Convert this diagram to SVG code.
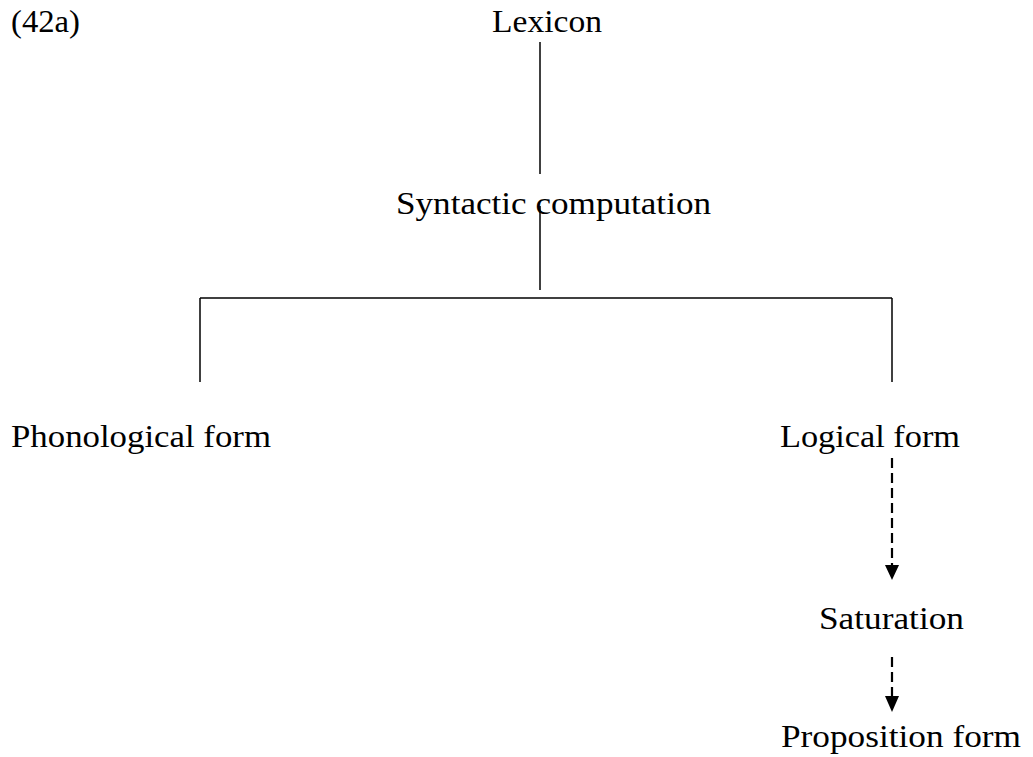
<svg xmlns="http://www.w3.org/2000/svg" width="1033" height="757" viewBox="0 0 1033 757">
<style>
text{font-family:"Liberation Serif","DejaVu Serif",serif;font-size:32px;fill:#000}
.s{stroke:#000;stroke-width:1.5;fill:none}
.d{stroke:#000;stroke-width:2.2;fill:none;stroke-dasharray:10 5}
.a{fill:#000}
</style>
<rect width="1033" height="757" fill="#fff"/>
<g id="label"><text x="11" y="32" textLength="69" lengthAdjust="spacingAndGlyphs">(42a)</text></g>
<g id="lexicon"><text x="492" y="32" textLength="110" lengthAdjust="spacingAndGlyphs">Lexicon</text></g>
<g id="syntactic"><text x="396" y="214" textLength="315" lengthAdjust="spacingAndGlyphs">Syntactic computation</text></g>
<g id="phon"><text x="11" y="447" textLength="260" lengthAdjust="spacingAndGlyphs">Phonological form</text></g>
<g id="logical"><text x="780" y="447" textLength="180" lengthAdjust="spacingAndGlyphs">Logical form</text></g>
<g id="saturation"><text x="819" y="629" textLength="145" lengthAdjust="spacingAndGlyphs">Saturation</text></g>
<g id="proposition"><text x="781" y="747" textLength="240" lengthAdjust="spacingAndGlyphs">Proposition form</text></g>
<g id="connectors">
<line class="s" x1="540" y1="42" x2="540" y2="174"/>
<line class="s" x1="540" y1="206" x2="540" y2="290"/>
<line class="s" x1="200" y1="298" x2="892" y2="298"/>
<line class="s" x1="200" y1="298" x2="200" y2="382"/>
<line class="s" x1="892" y1="298" x2="892" y2="382"/>
<line class="d" x1="892" y1="458" x2="892" y2="566"/>
<polygon class="a" points="885,565 899,565 892,580"/>
<line class="d" x1="892" y1="657" x2="892" y2="697"/>
<polygon class="a" points="885,696 899,696 892,712"/>
</g>
</svg>
